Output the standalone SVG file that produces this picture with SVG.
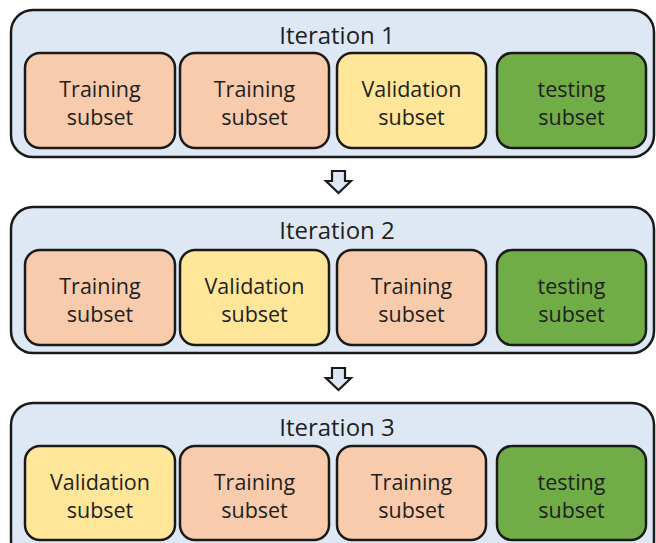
<svg xmlns="http://www.w3.org/2000/svg" width="656" height="543" viewBox="0 0 656 543">
  <style>
    .panel { fill: #dee8f4; stroke: #1a1a1a; stroke-width: 2.5; }
    .box { stroke: #1a1a1a; stroke-width: 2.5; }
    .train { fill: #f8cbad; }
    .valid { fill: #ffe699; }
    .test { fill: #70ad47; }
    .title { font-family: "Open Sans", "Noto Sans", sans-serif; font-size: 24px; fill: #1f1f1f; text-anchor: middle; }
    .lbl { font-family: "Open Sans", "Noto Sans", sans-serif; font-size: 21.5px; fill: #1f1f1f; text-anchor: middle; }
    .arrow { fill: #dee8f4; stroke: #1a1a1a; stroke-width: 2.2; stroke-linejoin: miter; }
  </style>
  <rect width="656" height="543" fill="#ffffff"/>

  <!-- Iteration 1 -->
  <g id="iteration1">
    <rect class="panel" x="11" y="10" width="643" height="147" rx="22"/>
    <text class="title" x="337" y="44">Iteration 1</text>
    <g id="it1-a"><rect class="box train" x="25" y="53" width="150" height="95" rx="15"/><text class="lbl" x="100" y="97">Training</text><text class="lbl" x="100" y="125">subset</text></g>
    <g id="it1-b"><rect class="box train" x="180" y="53" width="149" height="95" rx="15"/><text class="lbl" x="254.5" y="97">Training</text><text class="lbl" x="254.5" y="125">subset</text></g>
    <g id="it1-c"><rect class="box valid" x="337" y="53" width="149" height="95" rx="15"/><text class="lbl" x="411.5" y="97">Validation</text><text class="lbl" x="411.5" y="125">subset</text></g>
    <g id="it1-d"><rect class="box test" x="497" y="53" width="149" height="95" rx="15"/><text class="lbl" x="571.5" y="97">testing</text><text class="lbl" x="571.5" y="125">subset</text></g>
  </g>

  <!-- Iteration 2 -->
  <g id="iteration2">
    <rect class="panel" x="11" y="207" width="643" height="146" rx="22"/>
    <text class="title" x="337" y="239">Iteration 2</text>
    <g id="it2-a"><rect class="box train" x="25" y="250" width="150" height="95" rx="15"/><text class="lbl" x="100" y="294">Training</text><text class="lbl" x="100" y="322">subset</text></g>
    <g id="it2-b"><rect class="box valid" x="180" y="250" width="149" height="95" rx="15"/><text class="lbl" x="254.5" y="294">Validation</text><text class="lbl" x="254.5" y="322">subset</text></g>
    <g id="it2-c"><rect class="box train" x="337" y="250" width="149" height="95" rx="15"/><text class="lbl" x="411.5" y="294">Training</text><text class="lbl" x="411.5" y="322">subset</text></g>
    <g id="it2-d"><rect class="box test" x="497" y="250" width="149" height="95" rx="15"/><text class="lbl" x="571.5" y="294">testing</text><text class="lbl" x="571.5" y="322">subset</text></g>
  </g>

  <!-- Iteration 3 (runs past the bottom edge) -->
  <g id="iteration3">
    <rect class="panel" x="11" y="403" width="643" height="160" rx="22"/>
    <text class="title" x="337" y="436">Iteration 3</text>
    <g id="it3-a"><rect class="box valid" x="25" y="446" width="150" height="94" rx="15"/><text class="lbl" x="100" y="490">Validation</text><text class="lbl" x="100" y="518">subset</text></g>
    <g id="it3-b"><rect class="box train" x="180" y="446" width="149" height="94" rx="15"/><text class="lbl" x="254.5" y="490">Training</text><text class="lbl" x="254.5" y="518">subset</text></g>
    <g id="it3-c"><rect class="box train" x="337" y="446" width="149" height="94" rx="15"/><text class="lbl" x="411.5" y="490">Training</text><text class="lbl" x="411.5" y="518">subset</text></g>
    <g id="it3-d"><rect class="box test" x="497" y="446" width="149" height="94" rx="15"/><text class="lbl" x="571.5" y="490">testing</text><text class="lbl" x="571.5" y="518">subset</text></g>
  </g>

  <!-- connectors: hollow block arrows between iterations -->
  <g id="connectors">
    <polygon class="arrow" points="332,171 345,171 345,181 351,181 338.5,193 326,181 332,181"/>
    <polygon class="arrow" points="332,368 345,368 345,378 351,378 338.5,390 326,378 332,378"/>
  </g>
</svg>
